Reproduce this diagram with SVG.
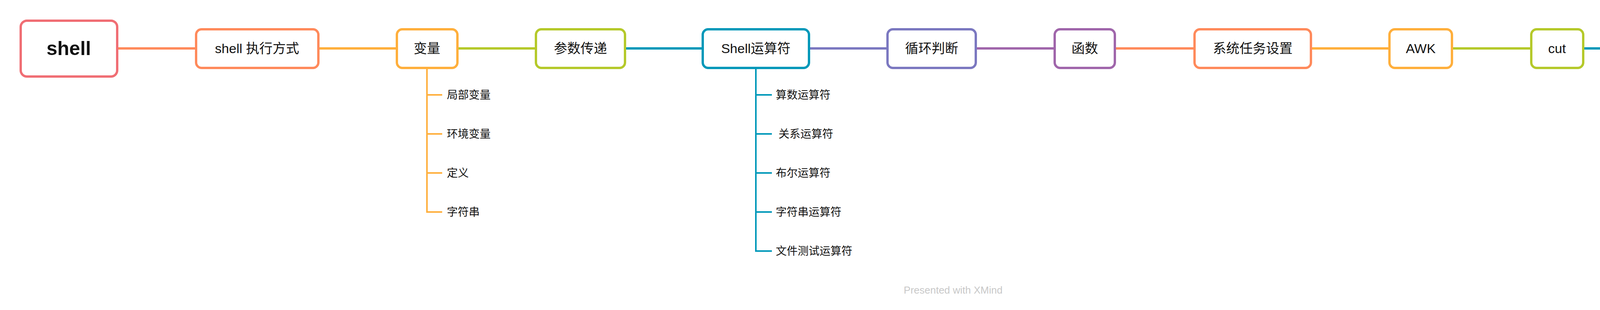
<svg xmlns="http://www.w3.org/2000/svg" width="4880" height="794" viewBox="0 0 4880 794">
<style>
text{font-family:"Liberation Sans","Noto Sans CJK SC",sans-serif;fill:#111}
.n rect{fill:#fff;stroke-width:6}
.n text{font-size:34px;text-anchor:middle;dominant-baseline:central}
.s{font-size:28px;dominant-baseline:central}
.c path{fill:none;stroke-width:6}
.b path{fill:none;stroke-width:4}
</style>
<rect width="4880" height="794" fill="#fff"/>
<g class="c">
<path d="M300 124H502" stroke="#FF8A5B"/>
<path d="M815 124H1016" stroke="#FFAF3C"/>
<path d="M1171 124H1372" stroke="#B5C92A"/>
<path d="M1600 124H1799" stroke="#0098B9"/>
<path d="M2071 124H2272" stroke="#7B78C0"/>
<path d="M2498 124H2700" stroke="#A066AB"/>
<path d="M2854 124H3058" stroke="#FF8A5B"/>
<path d="M3356 124H3557" stroke="#FFAF3C"/>
<path d="M3717 124H3920" stroke="#B5C92A"/>
<path d="M4053 124H4255" stroke="#0098B9"/>
<path d="M4403 124H4607" stroke="#7B78C0"/>
</g>
<g class="b">
<path d="M1093 175V543H1132M1093 243H1132M1093 343H1132M1093 443H1132" stroke="#FFAF3C"/>
<path d="M1935 175V643H1976M1935 243H1976M1935 343H1976M1935 443H1976M1935 543H1976" stroke="#0098B9"/>
</g>
<g id="root" class="n"><rect x="53" y="53" width="247" height="143" rx="16" stroke="#F06E74"/><text x="176" y="124" style="font-size:50px;font-weight:bold">shell</text></g>
<g id="n1" class="n"><rect x="502" y="75" width="313" height="99" rx="14" stroke="#FF8A5B"/><text x="658" y="124">shell 执行方式</text></g>
<g id="n2" class="n"><rect x="1016" y="75" width="155" height="99" rx="14" stroke="#FFAF3C"/><text x="1093" y="124">变量</text></g>
<g id="n3" class="n"><rect x="1372" y="75" width="228" height="99" rx="14" stroke="#B5C92A"/><text x="1486" y="124">参数传递</text></g>
<g id="n4" class="n"><rect x="1799" y="75" width="272" height="99" rx="14" stroke="#0098B9"/><text x="1935" y="124">Shell运算符</text></g>
<g id="n5" class="n"><rect x="2272" y="75" width="226" height="99" rx="14" stroke="#7B78C0"/><text x="2385" y="124">循环判断</text></g>
<g id="n6" class="n"><rect x="2700" y="75" width="154" height="99" rx="14" stroke="#A066AB"/><text x="2777" y="124">函数</text></g>
<g id="n7" class="n"><rect x="3058" y="75" width="298" height="99" rx="14" stroke="#FF8A5B"/><text x="3207" y="124">系统任务设置</text></g>
<g id="n8" class="n"><rect x="3557" y="75" width="160" height="99" rx="14" stroke="#FFAF3C"/><text x="3637" y="124">AWK</text></g>
<g id="n9" class="n"><rect x="3920" y="75" width="133" height="99" rx="14" stroke="#B5C92A"/><text x="3986" y="124">cut</text></g>
<g id="n10" class="n"><rect x="4255" y="75" width="148" height="99" rx="14" stroke="#0098B9"/><text x="4329" y="124">sort</text></g>
<g id="n11" class="n"><rect x="4607" y="75" width="224" height="99" rx="14" stroke="#7B78C0"/><text x="4719" y="124">正则符号</text></g>
<g id="v1"><text class="s" x="1144" y="243">局部变量</text></g>
<g id="v2"><text class="s" x="1144" y="343">环境变量</text></g>
<g id="v3"><text class="s" x="1144" y="443">定义</text></g>
<g id="v4"><text class="s" x="1144" y="543">字符串</text></g>
<g id="o1"><text class="s" x="1986" y="243">算数运算符</text></g>
<g id="o2"><text class="s" x="1993" y="343">关系运算符</text></g>
<g id="o3"><text class="s" x="1986" y="443">布尔运算符</text></g>
<g id="o4"><text class="s" x="1986" y="543">字符串运算符</text></g>
<g id="o5"><text class="s" x="1986" y="643">文件测试运算符</text></g>
<text x="2440" y="743" style="font-size:26px;fill:#c8c8c8;text-anchor:middle;dominant-baseline:central">Presented with XMind</text>
<text x="4865" y="777" style="font-size:15px;fill:#999;text-anchor:end;dominant-baseline:central">CSDN @qq_46631404</text>
</svg>
